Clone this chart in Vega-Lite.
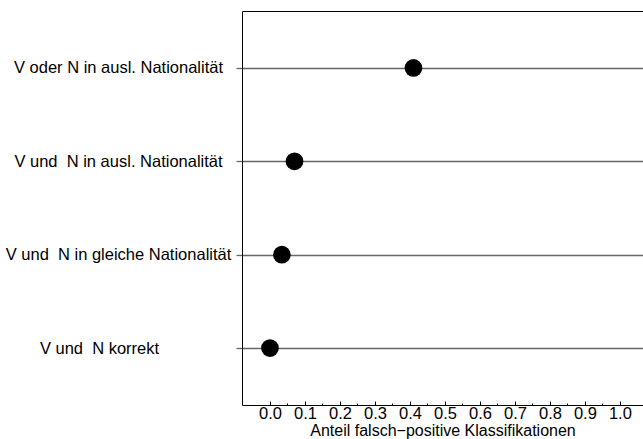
{
  "$schema": "https://vega.github.io/schema/vega-lite/v6.json",
  "width": 401,
  "height": 394,
  "padding": {"left": 5, "top": 11, "right": 0, "bottom": 0},
  "background": "white",
  "config": {
    "view": {"stroke": null},
    "font": "Liberation Sans"
  },
  "data": {
    "values": [
      {"label": "V oder N in ausl. Nationalität", "anteil": 0.41},
      {"label": "V und\u00a0 N in ausl. Nationalität", "anteil": 0.07},
      {"label": "V und\u00a0 N in gleiche Nationalität", "anteil": 0.034},
      {"label": "V und\u00a0 N korrekt", "anteil": 0.0}
    ]
  },
  "resolve": {"axis": {"x": "independent"}},
  "layer": [
    {
      "mark": {"type": "point", "filled": true, "shape": "circle", "size": 314, "color": "black", "opacity": 1},
      "encoding": {
        "y": {
          "field": "label",
          "type": "nominal",
          "sort": null,
          "scale": {"type": "point", "padding": 0.61},
          "axis": {
            "title": null,
            "domain": true,
            "domainColor": "black",
            "domainWidth": 1,
            "grid": true,
            "gridColor": "#666666",
            "gridWidth": 1.3,
            "ticks": true,
            "tickColor": "#666666",
            "tickWidth": 1.3,
            "tickSize": 6,
            "labelAlign": "center",
            "labelFontSize": 16.5,
            "labelColor": "black",
            "labelFont": "Liberation Sans",
            "labelPadding": {"condition": {"test": "indexof(datum.value, 'korrekt') >= 0", "value": 137}, "value": 118},
            "labelLimit": 400
          }
        },
        "x": {
          "field": "anteil",
          "type": "quantitative",
          "scale": {"domain": [-0.08, 1.066], "nice": false, "zero": false},
          "axis": {
            "orient": "bottom",
            "title": "Anteil falsch−positive Klassifikationen",
            "titleFontSize": 16,
            "titleFontWeight": "normal",
            "titleColor": "black",
            "titleFont": "Liberation Sans",
            "titlePadding": 1,
            "grid": false,
            "domain": true,
            "domainColor": "black",
            "domainWidth": 1,
            "values": [0, 0.1, 0.2, 0.3, 0.4, 0.5, 0.6, 0.7, 0.8, 0.9, 1.0],
            "format": ".1f",
            "ticks": false,
            "labelFontSize": 16.5,
            "labelColor": "black",
            "labelFont": "Liberation Sans",
            "labelPadding": 0,
            "labelFlush": false,
            "labelOverlap": false
          }
        }
      }
    },
    {
      "mark": {"type": "point", "opacity": 0},
      "encoding": {
        "y": {"field": "label", "type": "nominal", "sort": null},
        "x": {
          "field": "anteil",
          "type": "quantitative",
          "axis": {
            "orient": "bottom",
            "offset": -4,
            "title": null,
            "labels": false,
            "ticks": true,
            "tickSize": 4,
            "tickColor": "black",
            "values": [0, 0.1, 0.2, 0.3, 0.4, 0.5, 0.6, 0.7, 0.8, 0.9, 1.0],
            "grid": false,
            "domain": false
          }
        }
      }
    },
    {
      "mark": {"type": "point", "opacity": 0},
      "encoding": {
        "y": {"field": "label", "type": "nominal", "sort": null},
        "x": {
          "field": "anteil",
          "type": "quantitative",
          "axis": {
            "orient": "bottom",
            "offset": -2,
            "title": null,
            "labels": false,
            "ticks": true,
            "tickSize": 2,
            "tickColor": "black",
            "values": [0.05, 0.15, 0.25, 0.35, 0.45, 0.55, 0.65, 0.75, 0.85, 0.95],
            "grid": false,
            "domain": false
          }
        }
      }
    },
    {
      "mark": {"type": "point", "opacity": 0},
      "encoding": {
        "y": {"field": "label", "type": "nominal", "sort": null},
        "x": {
          "field": "anteil",
          "type": "quantitative",
          "axis": {
            "orient": "top",
            "title": null,
            "labels": false,
            "ticks": false,
            "grid": false,
            "domain": true,
            "domainColor": "black",
            "domainWidth": 1
          }
        }
      }
    }
  ]
}
